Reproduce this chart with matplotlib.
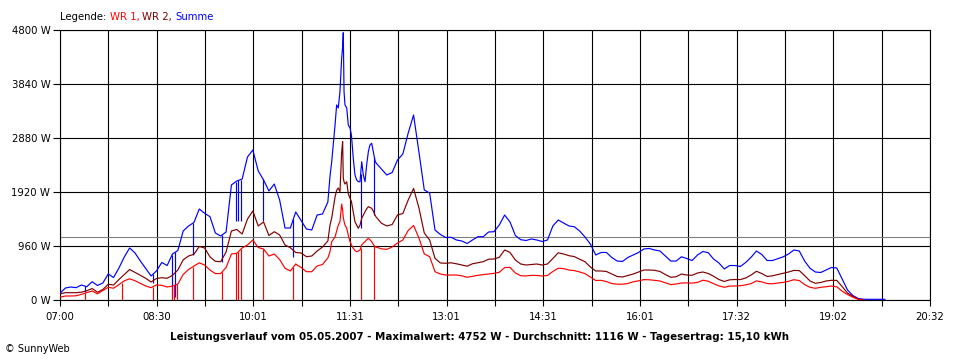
import numpy as np
import matplotlib
matplotlib.use("Agg")
import matplotlib.pyplot as plt

# ---------------- data (minutes after 07:00, watts) ----------------
t_min = np.arange(0, 775, 5)

summe = [120, 213, 231, 219, 267, 236, 325, 258, 302, 462,
         400, 569, 765, 925, 836, 693, 560, 427, 516, 667,
         613, 818, 880, 1227, 1316, 1378, 1618, 1541, 1481, 1191,
         1138, 1209, 2045, 2116, 2150, 2543, 2667, 2294, 2134, 1938,
         2062, 1778, 1280, 1280, 1565, 1413, 1262, 1245, 1511, 1529,
         1742, 2756, 3467, 4267, 3076, 2311, 2103, 2169, 2756, 2436,
         2329, 2222, 2267, 2489, 2596, 2969, 3289, 2631, 1956, 1902,
         1245, 1165, 1111, 1115, 1067, 1049, 1005, 1067, 1125, 1125,
         1209, 1214, 1334, 1511, 1387, 1147, 1072, 1058, 1085, 1067,
         1040, 1067, 1316, 1422, 1369, 1316, 1303, 1227, 1120, 995,
         800, 845, 845, 756, 693, 685, 756, 800, 845, 907,
         916, 889, 871, 782, 693, 693, 768, 738, 702, 800,
         862, 841, 729, 658, 551, 613, 613, 596, 667, 759,
         871, 809, 702, 702, 734, 768, 818, 889, 871, 693,
         564, 498, 489, 533, 578, 569, 373, 178, 80, 27,
         14, 12, 12, 12, 12]

wr2 = [110, 130, 130, 130, 139, 165, 204, 137, 187, 279,
       267, 364, 453, 542, 491, 439, 386, 320, 382, 396,
       386, 439, 533, 715, 782, 814, 951, 925, 765, 688,
       681, 853, 1227, 1254, 1173, 1440, 1582, 1316, 1387, 1147,
       1214, 1156, 978, 930, 845, 836, 770, 782, 871, 942,
       1049, 1689, 1974, 2134, 1867, 1440, 1351, 1582, 1645, 1476,
       1365, 1316, 1342, 1511, 1538, 1778, 1983, 1636, 1191, 1067,
       741, 658, 653, 661, 644, 622, 601, 644, 663, 681,
       725, 729, 759, 889, 845, 711, 640, 622, 631, 640,
       622, 640, 738, 839, 818, 788, 772, 725, 681, 587,
       516, 516, 507, 462, 418, 409, 436, 462, 498, 533,
       533, 528, 507, 453, 404, 413, 462, 444, 439, 480,
       498, 471, 423, 364, 329, 359, 364, 363, 391, 444,
       510, 471, 418, 430, 453, 475, 498, 526, 523, 434,
       338, 297, 311, 338, 350, 348, 240, 124, 62, 14,
       0]

wr1 = [50, 71, 71, 75, 101, 130, 160, 110, 169, 224,
       210, 274, 341, 377, 343, 297, 249, 219, 267, 261,
       231, 249, 284, 453, 542, 604, 661, 622, 533, 469,
       471, 578, 818, 830, 925, 978, 1067, 933, 907, 782,
       818, 720, 564, 516, 640, 578, 503, 503, 604, 631,
       747, 1138, 1325, 1440, 1093, 898, 889, 1044, 1067, 942,
       910, 900, 942, 1013, 1067, 1236, 1325, 1102, 818, 770,
       503, 462, 444, 444, 444, 430, 404, 421, 439, 452,
       462, 473, 493, 576, 581, 480, 432, 427, 439, 436,
       427, 436, 507, 564, 558, 533, 523, 498, 469, 409,
       347, 350, 327, 293, 281, 281, 293, 325, 340, 363,
       359, 350, 338, 306, 274, 284, 302, 304, 300, 313,
       352, 334, 290, 251, 226, 247, 249, 254, 268, 292,
       340, 322, 293, 288, 302, 313, 332, 361, 345, 274,
       226, 208, 226, 236, 249, 235, 156, 98, 50, 12,
       0]

# finer samples around the midday peak
t_peak = [252, 253.6, 256.7, 258.2, 259.7, 261.3, 262.9, 263.8, 264.4, 265.1,
          266, 267.6, 269.1, 270.7, 272, 273.7, 275.3, 276.9, 278.4, 280,
          281.6, 283.1, 284.7, 286.2, 287.8, 289.3, 290.9, 292.4, 294]
summe_peak = [2200, 2459, 3111, 3467, 3414, 3704, 4303, 4500, 4752, 3704,
              3467, 3414, 3111, 3058, 2934, 2525, 2222, 2133, 2103, 2103,
              2459, 2222, 2103, 2400, 2637, 2756, 2786, 2637, 2480]
wr2_peak = [1333, 1458, 1831, 1950, 1991, 1926, 2631, 2815, 2169, 2100,
            2062, 2103, 1885, 1808, 1750, 1570, 1392, 1330, 1275, 1330,
            1453, 1510, 1570, 1620, 1659, 1645, 1630, 1580, 1511]
wr1_peak = [859, 1037, 1120, 1230, 1333, 1392, 1707, 1600, 1467, 1400,
            1333, 1275, 1150, 1037, 980, 919, 880, 859, 870, 889,
            978, 1010, 1037, 1070, 1097, 1070, 1037, 990, 948]

# short drop-outs
wr1_dropouts = [23.3, 57.6, 86.8, 104.5, 106.4, 109.2, 124.1, 151.2, 164.3,
                166.4, 168.7, 189.7, 217.9, 280.6, 293.3]
summe_dip_t = [23.3, 86.8, 104.5, 107.5, 124.1, 151.2, 164.3, 166.4, 168.7,
               189.7, 217.9, 280.6, 293.3]
summe_dip_w = [150, 297, 60, 60, 800, 681, 1400, 1400, 1400,
               1400, 770, 1275, 1511]

durchschnitt = 1116
day_span = 812  # 07:00 .. 20:32
y_ticks = [0, 960, 1920, 2880, 3840, 4800]
x_labels = ["07:00", "08:30", "10:01", "11:31", "13:01",
            "14:31", "16:01", "17:32", "19:02", "20:32"]
title = ("Leistungsverlauf vom 05.05.2007 - Maximalwert: 4752 W - "
         "Durchschnitt: 1116 W - Tagesertrag: 15,10 kWh")

C_WR1 = "#ff0000"
C_WR2 = "#800000"
C_SUM = "#0000ff"


def merge(tb, vb, tp, vp):
    tb = np.asarray(tb, float)
    vb = np.asarray(vb, float)
    keep = (tb < tp[0]) | (tb > tp[-1])
    t = np.concatenate([tb[keep], tp])
    v = np.concatenate([vb[keep], vp])
    o = np.argsort(t)
    return t[o], v[o]


ts, vs = merge(t_min, summe, t_peak, summe_peak)
t2, v2 = merge(t_min[:len(wr2)], wr2, t_peak, wr2_peak)
t1, v1 = merge(t_min[:len(wr1)], wr1, t_peak, wr1_peak)

plt.rcParams['font.family'] = ['DejaVu Sans']
fig = plt.figure(figsize=(9.6, 3.6), dpi=100)
ax = fig.add_axes([60 / 960, 60 / 360, 870 / 960, 270 / 360])

ax.set_xlim(0, day_span)
ax.set_ylim(0, 4800)

xt = np.linspace(0, day_span, 19)
ax.set_xticks(xt)
ax.set_xticklabels([x_labels[i // 2] if i % 2 == 0 else "" for i in range(19)])
ax.set_yticks(y_ticks)
ax.set_yticklabels([f"{v} W" for v in y_ticks])
ax.grid(True, color="black", lw=0.8)
ax.set_axisbelow(True)
for s in ax.spines.values():
    s.set_color("black")
    s.set_linewidth(0.8)
ax.tick_params(axis="x", direction="out", length=4.3, width=0.8,
               labelsize=7.3, pad=4)
ax.tick_params(axis="y", direction="out", length=5, width=0.8,
               labelsize=7.3, pad=2)

ax.axhline(durchschnitt, color="#808080", lw=0.8, zorder=1.5)

lw = 0.85
ax.plot(ts, vs, color=C_SUM, lw=lw, zorder=3)
ax.vlines(summe_dip_t, summe_dip_w, np.interp(summe_dip_t, ts, vs),
          color=C_SUM, lw=lw, zorder=3)
ax.plot(t2, v2, color=C_WR2, lw=lw, zorder=4)
ax.plot(t1, v1, color=C_WR1, lw=lw, zorder=5)
ax.vlines(wr1_dropouts, 0, np.interp(wr1_dropouts, t1, v1),
          color=C_WR1, lw=lw, zorder=5)

# legend line at top
fig.canvas.draw()
r = fig.canvas.get_renderer()
x0 = 60 / 960
yl = (360 - 17) / 360
for txt, col in [("Legende: ", "black"), ("WR 1, ", C_WR1),
                 ("WR 2, ", C_WR2), ("Summe", C_SUM)]:
    tt = fig.text(x0, yl, txt, color=col, fontsize=7.3, va="center", ha="left")
    bb = tt.get_window_extent(renderer=r)
    x0 += bb.width / fig.bbox.width

fig.text(0.5, (360 - 337) / 360, title, ha="center", va="center",
         fontsize=7.4, fontweight="bold")
fig.text(5 / 960, (360 - 349) / 360, "\u00a9 SunnyWeb", ha="left",
         va="center", fontsize=7)

fig.savefig("out.png", dpi=100)
